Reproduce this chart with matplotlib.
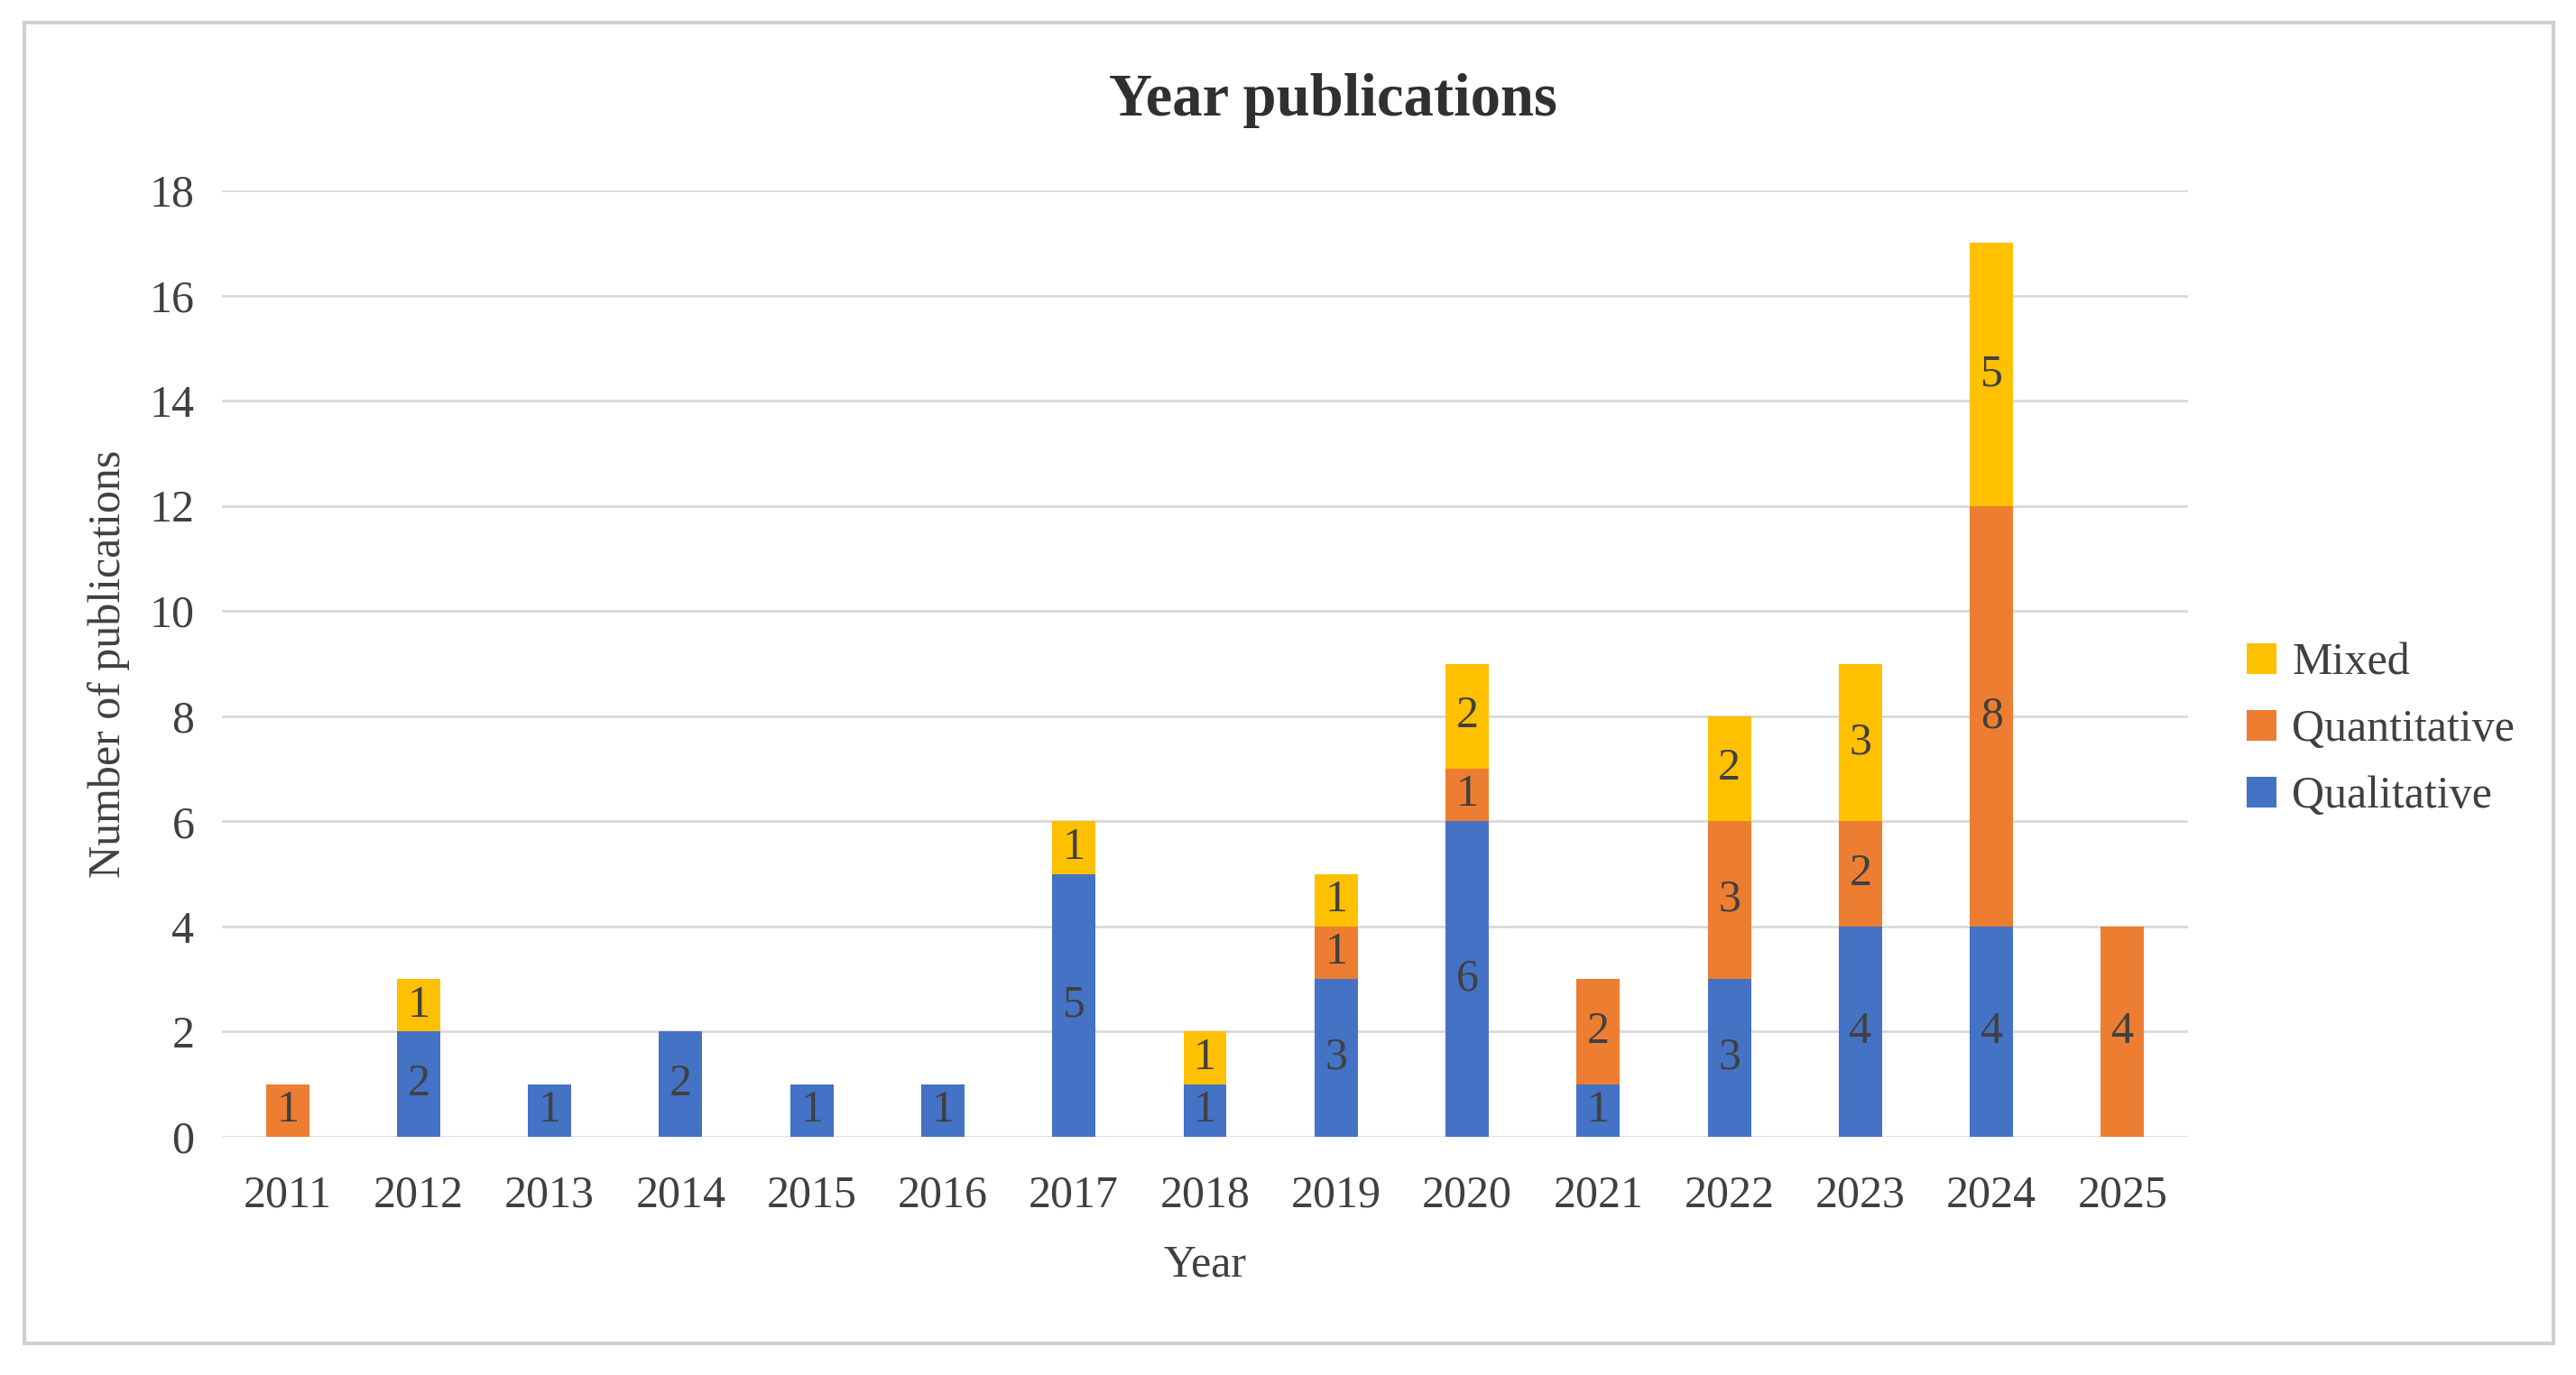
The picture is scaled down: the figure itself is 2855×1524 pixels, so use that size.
import matplotlib
matplotlib.use("Agg")
import matplotlib.pyplot as plt
from matplotlib.patches import Rectangle, Patch
import numpy as np

years = ["2011", "2012", "2013", "2014", "2015", "2016", "2017", "2018",
         "2019", "2020", "2021", "2022", "2023", "2024", "2025"]
qualitative = [0, 2, 1, 2, 1, 1, 5, 1, 3, 6, 1, 3, 4, 4, 0]
quantitative = [1, 0, 0, 0, 0, 0, 0, 0, 1, 1, 2, 3, 2, 8, 4]
mixed = [0, 1, 0, 0, 0, 0, 1, 1, 1, 2, 0, 2, 3, 5, 0]
series_names = ["Qualitative", "Quantitative", "Mixed"]
colors = ["#4472C4", "#ED7D31", "#FFC000"]
yticks = [0, 2, 4, 6, 8, 10, 12, 14, 16, 18]

plt.rcParams['font.family'] = ['Liberation Serif', 'DejaVu Serif']
txt = "#404040"

W, H = 2855, 1524
fig = plt.figure(figsize=(W / 200, H / 200), dpi=200)
ax = fig.add_axes([246 / W, 1 - 1260 / H, (2425 - 246) / W, (1260 - 211) / H])

x = np.arange(len(years))
bottom = np.zeros(len(years))
handles = []
for name, vals, c in zip(series_names, [qualitative, quantitative, mixed], colors):
    vals = np.array(vals, dtype=float)
    bars = ax.bar(x, vals, width=0.33, bottom=bottom, color=c, zorder=3, label=name)
    labels = [str(int(v)) if v > 0 else "" for v in vals]
    ax.bar_label(bars, labels=labels, label_type='center', fontsize=18, color=txt)
    bottom += vals
    handles.append(Patch(facecolor=c, label=name))

ax.set_xlim(-0.5, len(years) - 0.5)
ax.set_ylim(0, 18)
ax.set_yticks(yticks)
ax.set_xticks(x)
ax.set_xticklabels(years)
ax.tick_params(axis='both', length=0, labelsize=18, labelcolor=txt)
ax.tick_params(axis='x', pad=15)
ax.tick_params(axis='y', pad=11)
for s in ax.spines.values():
    s.set_visible(False)
ax.grid(axis='y', color="#D9D9D9", linewidth=1.0, zorder=0)
ax.set_axisbelow(True)

ax.set_xlabel("Year", fontsize=18, color=txt)
ax.xaxis.set_label_coords(0.5, -0.113)
ax.set_ylabel("Number of publications", fontsize=18, color=txt)
ax.yaxis.set_label_coords(-0.047, 0.5)

fig.text(0.5175, 1 - 111 / H, "Year publications", fontsize=24, fontweight='bold',
         color="#303030", ha='center', va='center')

leg = fig.legend(handles=handles[::-1], loc='center left',
                 bbox_to_anchor=(2490 / W, 1 - 809 / H), frameon=False,
                 fontsize=18, handlelength=0.66, handleheight=0.66,
                 handletextpad=0.35, labelspacing=0.55, borderpad=0, borderaxespad=0)
for t in leg.get_texts():
    t.set_color(txt)

fig.patches.append(Rectangle((27 / W, 1 - 1489 / H), (2830 - 27) / W, (1489 - 25) / H,
                             transform=fig.transFigure, fill=False,
                             edgecolor="#D0D0D0", linewidth=1.5))

fig.savefig("out.png", dpi=200, facecolor="white")
